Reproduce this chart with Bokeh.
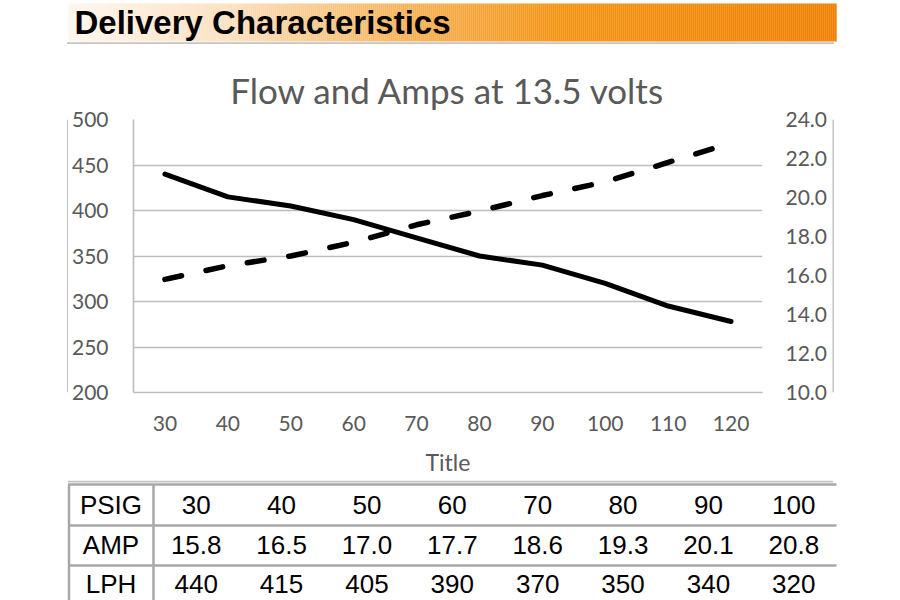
from bokeh.plotting import figure
from bokeh.layouts import column, row
from bokeh.models import Range1d, LinearAxis, FixedTicker
from bokeh.core.properties import value
from bokeh.embed import file_html
from bokeh.resources import INLINE

# ---------------- data ----------------
header_text = "Delivery Characteristics"
chart_title = "Flow and Amps at 13.5 volts"
x_title = "Title"

psig = [30, 40, 50, 60, 70, 80, 90, 100, 110, 120]
amp = [15.8, 16.5, 17.0, 17.7, 18.6, 19.3, 20.1, 20.8, 21.8, 22.8]
lph = [440, 415, 405, 390, 370, 350, 340, 320, 295, 278]

lph_ticks = [200, 250, 300, 350, 400, 450, 500]
amp_ticks = [10, 12, 14, 16, 18, 20, 22, 24]
amp_tick_labels = ["10.0", "12.0", "14.0", "16.0", "18.0", "20.0", "22.0", "24.0"]

table_row_names = ["PSIG", "AMP", "LPH"]
table_psig = [30, 40, 50, 60, 70, 80, 90, 100]
table_amp = ["15.8", "16.5", "17.0", "17.7", "18.6", "19.3", "20.1", "20.8"]
table_lph = [440, 415, 405, 390, 370, 350, 340, 320]

# ---------------- styles ----------------
FONT = "Lato"
TXT = "#595959"
BOX = "#c4c4c4"
TBL = "#a8a8a8"


def blank(w, h, xr, yr):
    f = figure(width=w, height=h, x_range=Range1d(*xr), y_range=Range1d(*yr),
               output_backend="svg", toolbar_location=None, min_border=0,
               x_axis_location=None, y_axis_location=None)
    f.grid.visible = False
    f.outline_line_color = None
    f.background_fill_color = "white"
    f.border_fill_color = "white"
    return f


def hex2rgb(h):
    h = h.lstrip("#")
    return tuple(int(h[i:i + 2], 16) for i in (0, 2, 4))


def grad_color(x, stops):
    for (x0, c0), (x1, c1) in zip(stops, stops[1:]):
        if x0 <= x <= x1:
            t = (x - x0) / (x1 - x0)
            a, b = hex2rgb(c0), hex2rgb(c1)
            return "#%02x%02x%02x" % tuple(int(round(a[i] + (b[i] - a[i]) * t)) for i in range(3))
    return stops[-1][1]


# ---------------- header ----------------
H_H = 44
header = blank(900, H_H, (0, 900), (H_H, 0))
stops = [(68, "#fff6ec"), (230, "#fce0bf"), (400, "#f7b35c"), (560, "#f39312"), (836, "#ef7f00")]
gl = list(range(68, 836, 2))
header.quad(left=gl, right=[g + 2.2 for g in gl], top=[3] * len(gl), bottom=[41] * len(gl),
            fill_color=[grad_color(g + 1, stops) for g in gl], line_color=None)
header.text(x=[74], y=[22], text=[header_text], text_font=value("Liberation Sans"),
            text_font_style="bold", text_font_size="33px", text_color="black",
            text_baseline="alphabetic", text_align="left")
header.line([67.5, 832.5], [42.8, 42.8], line_color=BOX, line_width=2)
header.segment(x0=[67.5, 832.5], y0=[42, 42], x1=[67.5, 832.5], y1=[H_H, H_H],
               line_color=BOX, line_width=2)

# ---------------- chart ----------------
C_TOP, C_BOT = 44, 480
C_H = C_BOT - C_TOP
FR_L, FR_R, FR_T, FR_B = 133, 762, 119, 392
C_L, C_R = 68, 832

p = figure(width=C_R - C_L, height=C_H, x_range=Range1d(25, 125), y_range=Range1d(200, 500),
           output_backend="svg", toolbar_location=None, title=chart_title,
           min_border_left=FR_L - C_L, min_border_right=C_R - FR_R,
           min_border_top=FR_T - C_TOP, min_border_bottom=C_BOT - FR_B)
p.extra_y_ranges = {"amp": Range1d(10, 24)}
p.outline_line_color = None
p.background_fill_color = "white"
p.border_fill_color = "white"

p.title.text_font = FONT
p.title.text_font_size = "35px"
p.title.text_font_style = "normal"
p.title.text_color = TXT
p.title.align = "center"
p.title.standoff = 17

p.xgrid.visible = False
p.ygrid.ticker = FixedTicker(ticks=lph_ticks)
p.ygrid.grid_line_color = "#bdbdbd"
p.ygrid.grid_line_width = 1.6

for ax in (p.xaxis[0], p.yaxis[0]):
    ax.major_tick_line_color = None
    ax.minor_tick_line_color = None
    ax.major_tick_out = 0
    ax.major_tick_in = 0
    ax.axis_line_color = "#bdbdbd"
    ax.axis_line_width = 1.6
    ax.major_label_text_font = FONT
    ax.major_label_text_font_size = "21px"
    ax.major_label_text_color = TXT

p.xaxis.ticker = FixedTicker(ticks=psig)
p.xaxis.major_label_standoff = 23
p.xaxis.axis_label = x_title
p.xaxis.axis_label_text_font = FONT
p.xaxis.axis_label_text_font_size = "23px"
p.xaxis.axis_label_text_font_style = "normal"
p.xaxis.axis_label_text_color = TXT
p.xaxis.axis_label_standoff = 14

p.yaxis.ticker = FixedTicker(ticks=lph_ticks)
p.yaxis.major_label_standoff = 25

ra = LinearAxis(y_range_name="amp", ticker=FixedTicker(ticks=amp_ticks),
                major_label_overrides={t: l for t, l in zip(amp_ticks, amp_tick_labels)})
ra.axis_line_color = None
ra.major_tick_line_color = None
ra.minor_tick_line_color = None
ra.major_tick_out = 0
ra.major_tick_in = 0
ra.major_label_standoff = 23
ra.major_label_text_font = FONT
ra.major_label_text_font_size = "21px"
ra.major_label_text_color = TXT
p.add_layout(ra, "right")

p.line(psig, lph, line_color="black", line_width=5, line_join="round", line_cap="round")
p.line(psig, amp, y_range_name="amp", line_color="black", line_width=5.5,
       line_dash="17 25", line_cap="round", line_join="round")

# side strips carrying the chart box border
left_strip = blank(C_L, C_H, (0, C_L), (C_H, 0))
left_strip.line([C_L - 0.5, C_L - 0.5], [0, C_H], line_color=BOX, line_width=2)
right_strip = blank(900 - C_R, C_H, (0, 900 - C_R), (C_H, 0))
right_strip.line([0.5, 0.5], [0, C_H], line_color=BOX, line_width=2)

# ---------------- table ----------------
T_TOP = C_BOT
T_H = 600 - T_TOP
tbl = blank(900, T_H, (0, 900), (T_H, 0))


def ty(abs_y):
    return abs_y - T_TOP


tbl.line([67.5, 832.5], [ty(481), ty(481)], line_color=BOX, line_width=2)
tbl.line([67.5, 836], [ty(484), ty(484)], line_color=TBL, line_width=2.5)
tbl.segment(x0=[67.5, 67.5], y0=[ty(525), ty(565)], x1=[836, 836], y1=[ty(525), ty(565)],
            line_color=TBL, line_width=2.5)
tbl.segment(x0=[68.5, 153], y0=[ty(484), ty(484)], x1=[68.5, 153], y1=[T_H, T_H],
            line_color=TBL, line_width=2.5)

col0 = 110.5
col_start, col_w = 153, (836 - 153) / 8
baselines = [504.5, 544, 583.5]
rows_vals = [[str(v) for v in table_psig], table_amp, [str(v) for v in table_lph]]
xs, ys, ts = [], [], []
for r, name in enumerate(table_row_names):
    xs.append(col0)
    ys.append(ty(baselines[r]))
    ts.append(name)
    for i, v in enumerate(rows_vals[r]):
        xs.append(col_start + col_w * (i + 0.5))
        ys.append(ty(baselines[r]))
        ts.append(v)
tbl.text(x=xs, y=ys, text=ts, text_font=value("Liberation Sans"), text_font_size="26px",
         text_color="black", text_align="center", text_baseline="alphabetic")

layout = column(header, row(left_strip, p, right_strip), tbl)

open("out.html", "w").write(file_html(layout, INLINE))
